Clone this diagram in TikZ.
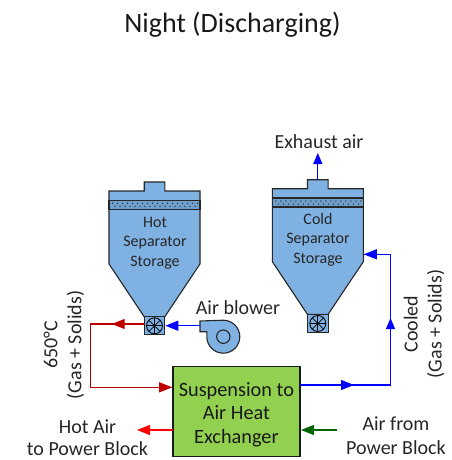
\documentclass[tikz,border=0pt]{standalone}
\usepackage{fontspec}
\setmainfont{Carlito}
\usetikzlibrary{arrows.meta}
\definecolor{vessel}{HTML}{7FB2E2}
\definecolor{bandc}{HTML}{6F9FCC}
\definecolor{hxgreen}{HTML}{92D050}
\definecolor{darkred}{HTML}{C00000}
\definecolor{dkgreen}{HTML}{006400}
\definecolor{pureblue}{HTML}{0000FF}
\tikzset{
  x=1pt,y=-1pt,
  tipp/.style={-{Triangle[length=13pt,width=10pt]}},
  tippv/.style={-{Triangle[length=11pt,width=9pt]}},
  vesselline/.style={draw=black!85,line width=1.1pt,line join=miter,fill=vessel},
  flow/.style={line width=1.2pt},
  lbl/.style={inner sep=0pt,align=center,font=\fontsize{20}{24}\selectfont,text=black!85},
  stor/.style={inner sep=0pt,align=center,font=\fontsize{16}{19.5}\selectfont,text=black!85},
  hx/.style={draw=black!90,line width=1.3pt,fill=hxgreen,align=center,inner sep=0pt,
    minimum width=127pt,minimum height=90pt,font=\fontsize{20.3}{23.5}\selectfont,text=black!90},
  fanbox/.style={draw=black!85,line width=1.1pt,fill=vessel,minimum width=20.5pt,minimum height=18.5pt,inner sep=0pt},
  fanwheel/.style={draw=black,line width=.9pt},
}
\newcommand{\separator}[3]{%
 \begin{scope}[shift={(#1,#2)}]
  \draw[vesselline] (-10.3,-9) -- (-10.3,0) -- (-45.5,0) -- (-45.5,73) -- (-10.3,125.7) -- (10.3,125.7) -- (45.5,73) -- (45.5,0) -- (10.3,0) -- (10.3,-9) -- cycle;
  \draw[vesselline,fill=bandc] (-45.5,9.3) rectangle (45.5,18.3);
  \foreach \k in {0,...,17}{\fill[black!80] (-42+\k*5,12.3) circle (.75pt);}
  \foreach \k in {0,...,16}{\fill[black!80] (-39.5+\k*5,15.3) circle (.75pt);}
  \node[fanbox] (#3) at (0,134.6) {};
  \draw[fanwheel] (0,134.8) circle (8pt);
  \foreach \a in {0,45,...,315}{\draw[fanwheel,line width=.7pt] (0,134.8) -- ++(\a:8pt);}
 \end{scope}}
\begin{document}
\begin{tikzpicture}
\useasboundingbox (0,0) rectangle (451,460);
\node[inner sep=0pt,font=\fontsize{28}{32}\selectfont,text=black!90] (title) at (232.5,25) {Night (Discharging)};

\separator{154.5}{191}{hotfan}
\separator{317.8}{188.7}{coldfan}

\node[stor] (hottext) at (155,242.8) {Hot\\Separator\\Storage};
\node[stor] (coldtext) at (318,239.7) {Cold\\Separator\\Storage};

% blower
\node[circle,minimum size=13.4pt,inner sep=0pt] (blowerhub) at (223.3,336.7) {};
\draw[vesselline] (200,321) -- (223.3,320.2)
  .. controls (232.4,320.2) and (239.8,327.6) .. (239.8,336.7)
  .. controls (239.8,345.8) and (232.4,353.2) .. (223.3,353.2)
  .. controls (214.2,353.2) and (206.8,345.8) .. (206.8,336.7)
  -- (206.8,331.7) -- (200,331.7) -- cycle;
\draw[line width=1.1pt,draw=black!85] (blowerhub) circle (6.7pt);
\coordinate (blowerout) at (200,325.7);

\node[hx] (hxbox) at (236.4,411.7) {\rule{0pt}{20pt}Suspension to\\Air Heat\\Exchanger};

% coordinates
\coordinate (redcorner1) at (90.7,324);
\coordinate (redcorner2) at (90.7,387.3);
\coordinate (redmid) at (111.7,324);
\coordinate (redin) at (172.2,387.3);
\coordinate (exhtip) at (317.8,153);
\coordinate (bluestart) at (300,385);
\coordinate (bluemid) at (354,385);
\coordinate (bluecorner1) at (390.5,385);
\coordinate (bluevmid) at (390.5,318);
\coordinate (bluecorner2) at (390.5,254.3);
\coordinate (coldin) at (363.8,254.3);
\coordinate (hotstart) at (172.7,430);
\coordinate (hottip) at (137,430);
\coordinate (greenstart) at (336.7,430);
\coordinate (greentip) at (301,430);

% red loop
\draw[flow,darkred] (hotfan.west |- redmid) -- (redcorner1) -- (redcorner2) -- (redin);
\draw[flow,darkred,tipp] (hotfan.west |- redmid) -- (redmid);
\draw[flow,darkred,tipp] (redcorner2) -- (redin);
% blower to fan
\draw[flow,pureblue,tipp] (blowerout) -- (hotfan.east |- blowerout);
% exhaust
\draw[flow,pureblue,tippv] (317.8,179.7) -- (exhtip);
% cooled
\draw[flow,pureblue] (bluestart) -- (bluecorner1) -- (bluecorner2) -- (coldin);
\draw[flow,pureblue,tipp] (bluestart) -- (bluemid);
\draw[flow,pureblue,tippv] (bluecorner1) -- (bluevmid);
\draw[flow,pureblue,tipp] (bluecorner2) -- (coldin);
% hot air, air from
\draw[flow,red,tipp] (hotstart) -- (hottip);
\draw[flow,dkgreen,tipp] (greenstart) -- (greentip);

% labels
\node[lbl] (exh) at (319,142) {Exhaust air};
\node[lbl] (airb) at (238,308) {Air blower};
\node[lbl] (hotair) at (87.5,426.5) {Hot Air};
\node[lbl] (hotair2) at (87.5,449) {to Power Block};
\node[lbl] (airfrom) at (396,436) {Air from\\Power Block};
\node[lbl,rotate=90] (t650) at (64,345) {650°C\\(Gas + Solids)};
\node[lbl,rotate=90] (cooled) at (424,324) {Cooled\\(Gas + Solids)};
\end{tikzpicture}
\end{document}
